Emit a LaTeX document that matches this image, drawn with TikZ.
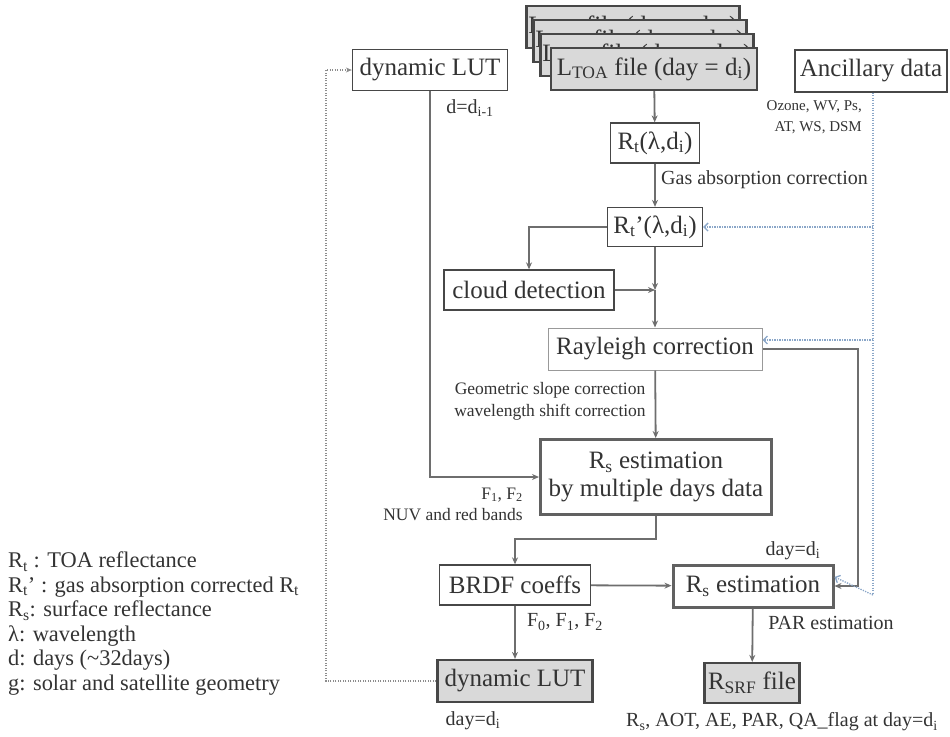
\documentclass[tikz,border=0pt]{standalone}
\usepackage{fontspec}
\setmainfont{Liberation Serif}
\usetikzlibrary{arrows.meta}
\definecolor{linegray}{HTML}{6E6E6E}
\definecolor{filegray}{HTML}{D9D9D9}
\definecolor{ancblue}{HTML}{8AA6C8}
\definecolor{txtgray}{HTML}{333333}
\newcommand{\sbs}[1]{\textsubscript{#1}}
\begin{document}
\begin{tikzpicture}[x=1pt,y=-1pt,text=txtgray,font=\fontsize{25}{28}\selectfont]
    \tikzstyle{box}=[draw=black!72, line width=1.3pt, fill=white, inner sep=2pt]
    \tikzstyle{thickbox}=[box, draw=black!62, line width=3pt]
    \tikzstyle{filebox}=[box, fill=filegray, line width=2.2pt]
    \tikzstyle{lbl}=[inner sep=0pt, font=\fontsize{20}{22}\selectfont]
    \tikzstyle{small}=[inner sep=0pt, font=\fontsize{17.5}{22}\selectfont]
    \tikzstyle{flow}=[draw=linegray, line width=1.8pt, -{Stealth[length=7pt,width=6pt]}]
    \tikzstyle{anc}=[draw=ancblue, line width=1.3pt, dash pattern=on 1.3pt off 1.2pt]
    \tikzstyle{feed}=[draw=black!45, line width=1.3pt, dash pattern=on 1.3pt off 1.2pt]
    \useasboundingbox (0,0) rectangle (950,736);

    % stack of input files
    \foreach \k/\dd in {3/{i-3},2/{i-2},1/{i-1}}
        \node[filebox, minimum width=206, minimum height=42] (toa\k) at ({654-7*\k},{69-14*\k})
            {L\sbs{TOA} file (day = d\sbs{\dd})};
    \node[filebox, minimum width=206, minimum height=42] (toa0) at (654,69) {L\sbs{TOA} file (day = d\sbs{i})};

    \node[box, minimum width=155, minimum height=41] (lutold) at (430,70) {dynamic LUT};
    \node[box, minimum width=152, minimum height=42] (ancil) at (871,71) {Ancillary data};
    \node[box, minimum width=89, minimum height=40] (rt) at (655,143) {R\sbs{t}(λ,d\sbs{i})};
    \node[box, minimum width=95, minimum height=39] (rtp) at (655,227) {R\sbs{t}’(λ,d\sbs{i})};
    \node[box, minimum width=170, minimum height=40] (cloud) at (529,290) {cloud detection};
    \coordinate (join) at (655,290);
    \node[box, draw=black!40, line width=1pt, minimum width=214, minimum height=42] (rayl) at (655,349) {Rayleigh correction};
    \node[thickbox, minimum width=231, minimum height=75, align=center] (rsmulti) at (656,477)
        {R\sbs{s} estimation\\by multiple days data};
    \node[box, minimum width=151, minimum height=40] (brdf) at (515,585) {BRDF coeffs};
    \node[thickbox, minimum width=160, minimum height=42] (rsest) at (753,586) {R\sbs{s} estimation};
    \node[filebox, minimum width=155, minimum height=42] (lutnew) at (515,681) {dynamic LUT};
    \node[filebox, minimum width=95, minimum height=40] (srf) at (752,683) {R\sbs{SRF} file};

    % labels
    \node[lbl] (dold) at (470,108) {d=d\sbs{i-1}};
    \node[small, font=\fontsize{15}{21}\selectfont, anchor=east, align=right] (ancvars) at (862,117)
        {Ozone, WV, Ps,\\AT, WS, DSM};
    \node[lbl, anchor=west] (gas) at (661,180) {Gas absorption correction};
    \node[small, align=center] (geom) at (550,401) {Geometric slope correction\\wavelength shift correction};
    \node[small, anchor=east] (fonetwo) at (523,495) {F\sbs{1}, F\sbs{2}};
    \node[small, anchor=east] (bands) at (523,515) {NUV and red bands};
    \node[lbl] (dayrs) at (793,551) {day=d\sbs{i}};
    \node[lbl] (fcoef) at (565,622) {F\sbs{0}, F\sbs{1}, F\sbs{2}};
    \node[lbl] (par) at (831,623) {PAR estimation};
    \node[lbl] (daylut) at (473,721) {day=d\sbs{i}};
    \node[lbl, anchor=east] (outvars) at (938,722) {R\sbs{s}, AOT, AE, PAR, QA\_flag at day=d\sbs{i}};

    % legend
    \node[inner sep=0pt, anchor=north west, align=left, font=\fontsize{22.4}{24.5}\selectfont] (legend) at (8,552)
        {R\sbs{t} : TOA reflectance\\
         R\sbs{t}’ : gas absorption corrected R\sbs{t}\\
         R\sbs{s}: surface reflectance\\
         λ: wavelength\\
         d: days (\textasciitilde 32days)\\
         g: solar and satellite geometry};

    % main flow
    \draw[flow] (toa0) -- (rt);
    \draw[flow] (rt) -- (rtp);
    \draw[flow] (rtp.west) -| (cloud.north);
    \draw[flow] (rtp.south) -- (join);
    \draw[flow] (cloud.east) -- (join);
    \draw[flow] (join) -- (rayl.north);
    \draw[flow] (rayl) -- (rsmulti);
    \draw[flow] (lutold.south) |- (rsmulti.west);
    \draw[flow] (rsmulti.south) -- ++(0,23) -| (brdf.north);
    \draw[flow] (brdf) -- (rsest);
    \draw[flow] (brdf) -- (lutnew);
    \coordinate (rbend) at (858,349);
    \draw[flow] (rayl.east) -- (rbend) |- (rsest.east);
    \draw[flow] (rsest) -- (srf);

    % feedback of the new LUT
    \coordinate (fbend) at (326,681);
    \draw[feed, -{Stealth[length=6pt,width=5pt]}] (lutnew.west) -- (fbend) |- (lutold.west);

    % ancillary inputs
    \coordinate (abot) at (873,595);
    \draw[anc] (ancil.south -| abot) -- (abot);
    \draw[anc, -{Straight Barb[length=4pt,width=8pt]}] (abot) -- ([yshift=9pt]rsest.east);
    \draw[anc, -{Straight Barb[length=4pt,width=8pt]}] (rtp.east -| abot) -- (rtp.east);
    \draw[anc, -{Straight Barb[length=4pt,width=8pt]}] ([yshift=9pt]rayl.east -| abot) -- ([yshift=9pt]rayl.east);
\end{tikzpicture}
\end{document}
